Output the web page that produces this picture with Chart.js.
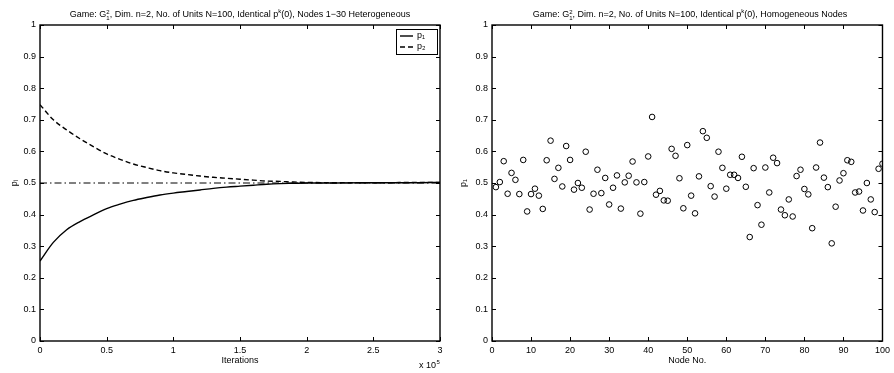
<!DOCTYPE html>
<html>
<head>
<meta charset="utf-8">
<script src="https://cdn.jsdelivr.net/npm/chart.js@4.4.1/dist/chart.umd.min.js"></script>
<style>
  body { margin: 0; background: #fff; font-family: 'Liberation Sans', Arial, sans-serif; }
  .panel { position: absolute; top: 0; height: 373px; }
  .ttl { position: absolute; top: 6px; font-size: 9px; white-space: nowrap; transform: translateX(-50%); color: #000; line-height: 11px; }
  .stk { display: inline-block; vertical-align: -3px; font-size: 6px; line-height: 6px; }
  .stk span { display: block; }
  .sup { font-size: 6px; vertical-align: 4px; }
</style>
</head>
<body>
<div class="panel" style="left:0;width:450px"><canvas id="conv" width="450" height="373"></canvas></div>
<div class="panel" style="left:450px;width:444px"><canvas id="nodes" width="444" height="373"></canvas></div>
<div class="ttl" style="left:240px">Game: G<span class="stk"><span>2</span><span>1</span></span>, Dim. n=2, No. of Units N=100, Identical p<span class="sup">k</span>(0), Nodes 1&#8722;30 Heterogeneous</div>
<div class="ttl" style="left:690px">Game: G<span class="stk"><span>2</span><span>1</span></span>, Dim. n=2, No. of Units N=100, Identical p<span class="sup">k</span>(0), Homogeneous Nodes</div>
<script>
// convergence of the mixed strategy, averaged over nodes
const iterations = [0, 10000, 20000, 30000, 40000, 50000, 60000, 70000, 80000, 90000,
  100000, 110000, 120000, 130000, 140000, 150000, 160000, 170000, 180000, 190000,
  200000, 220000, 240000, 260000, 280000, 300000];
const p1Avg = [0.253, 0.312, 0.352, 0.378, 0.399, 0.419, 0.433, 0.445, 0.454, 0.462,
  0.468, 0.473, 0.478, 0.483, 0.487, 0.490, 0.493, 0.496, 0.498, 0.499,
  0.500, 0.500, 0.501, 0.501, 0.501, 0.502];
const p2Avg = [0.748, 0.700, 0.668, 0.640, 0.615, 0.592, 0.575, 0.560, 0.549, 0.539,
  0.532, 0.527, 0.522, 0.518, 0.515, 0.512, 0.509, 0.506, 0.505, 0.503,
  0.502, 0.501, 0.501, 0.501, 0.502, 0.502];
const equilibrium = 0.5;

// final p1 per node
const nodeNo = Array.from({length: 100}, (_, i) => i + 1);
const p1Final = [
  0.487, 0.503, 0.569, 0.466, 0.532, 0.510, 0.465, 0.573, 0.410, 0.465,
  0.482, 0.460, 0.418, 0.572, 0.634, 0.513, 0.548, 0.489, 0.617, 0.573,
  0.479, 0.500, 0.485, 0.599, 0.416, 0.466, 0.542, 0.468, 0.516, 0.432,
  0.485, 0.524, 0.419, 0.502, 0.523, 0.568, 0.502, 0.403, 0.503, 0.584,
  0.709, 0.463, 0.475, 0.445, 0.444, 0.608, 0.586, 0.515, 0.420, 0.620,
  0.460, 0.404, 0.521, 0.664, 0.643, 0.490, 0.457, 0.599, 0.548, 0.482,
  0.526, 0.526, 0.516, 0.583, 0.488, 0.329, 0.547, 0.430, 0.368, 0.549,
  0.470, 0.580, 0.563, 0.416, 0.398, 0.448, 0.394, 0.522, 0.542, 0.481,
  0.464, 0.357, 0.549, 0.628, 0.517, 0.487, 0.309, 0.425, 0.508, 0.531,
  0.572, 0.567, 0.470, 0.473, 0.413, 0.500, 0.448, 0.408, 0.545, 0.561
];

const FONT = "'Liberation Sans', Arial, sans-serif";
Chart.defaults.font.family = FONT;
Chart.defaults.font.size = 9;
Chart.defaults.color = '#000';
Chart.defaults.animation = false;

// closed axes box with inward ticks on all four sides
const boxTicks = {
  id: 'boxTicks',
  afterDatasetsDraw(chart) {
    const {ctx, chartArea: a, scales} = chart;
    const L = 4;
    ctx.save();
    ctx.strokeStyle = '#000';
    ctx.lineWidth = 1;
    scales.x.ticks.forEach(t => {
      const px = Math.round(scales.x.getPixelForValue(t.value)) + 0.5;
      ctx.beginPath();
      ctx.moveTo(px, a.bottom); ctx.lineTo(px, a.bottom - L);
      ctx.moveTo(px, a.top); ctx.lineTo(px, a.top + L);
      ctx.stroke();
    });
    scales.y.ticks.forEach(t => {
      const py = Math.round(scales.y.getPixelForValue(t.value)) + 0.5;
      ctx.beginPath();
      ctx.moveTo(a.left, py); ctx.lineTo(a.left + L, py);
      ctx.moveTo(a.right, py); ctx.lineTo(a.right - L, py);
      ctx.stroke();
    });
    ctx.lineWidth = 1.4;
    ctx.strokeRect(a.left, a.top, a.right - a.left, a.bottom - a.top);
    ctx.restore();
  }
};

// boxed legend in the upper right corner
const cornerLegend = {
  id: 'cornerLegend',
  afterDraw(chart) {
    const {ctx, chartArea: a} = chart;
    const items = chart.data.datasets.filter(d => d.inLegend);
    const x0 = a.right - 44, y0 = a.top + 4, w = 41, h = 25;
    ctx.save();
    ctx.fillStyle = '#fff';
    ctx.fillRect(x0, y0, w, h);
    ctx.strokeStyle = '#000';
    ctx.lineWidth = 1;
    ctx.strokeRect(x0 + 0.5, y0 + 0.5, w, h);
    items.forEach((d, i) => {
      const yy = y0 + 7 + i * 11;
      ctx.beginPath();
      ctx.setLineDash(d.borderDash || []);
      ctx.lineWidth = d.borderWidth;
      ctx.moveTo(x0 + 4, yy); ctx.lineTo(x0 + 17, yy);
      ctx.stroke();
      ctx.setLineDash([]);
      ctx.fillStyle = '#000';
      ctx.font = '9px ' + FONT;
      ctx.textBaseline = 'middle';
      ctx.fillText(d.label, x0 + 21, yy);
    });
    ctx.restore();
  }
};

// exponent note under the right end of the x axis
const expNote = {
  id: 'expNote',
  afterDraw(chart) {
    const {ctx, chartArea: a} = chart;
    ctx.save();
    ctx.fillStyle = '#000';
    ctx.textBaseline = 'alphabetic';
    ctx.font = '9px ' + FONT;
    const base = 'x 10';
    const wBase = ctx.measureText(base).width;
    const x = a.right - wBase - 4;
    ctx.fillText(base, x, a.bottom + 27);
    ctx.font = '6px ' + FONT;
    ctx.fillText('5', x + wBase + 0.5, a.bottom + 23);
    ctx.restore();
  }
};

function yAxis(title, width, titleGap) {
  return {
    min: 0, max: 1,
    grid: {display: false, drawTicks: false}, border: {display: false},
    ticks: {stepSize: 0.1, padding: 4, callback: v => Math.round(v * 10) / 10},
    title: {display: true, text: title, padding: {top: titleGap, bottom: 0}},
    afterFit: s => { s.width = width; }
  };
}

function xAxis(max, step, title, fmt) {
  return {
    type: 'linear', min: 0, max: max,
    grid: {display: false, drawTicks: false}, border: {display: false},
    ticks: {stepSize: step, padding: 4, maxRotation: 0, callback: fmt},
    title: {display: true, text: title, padding: {top: 0, bottom: 7}},
    afterFit: s => { s.height = 32; }
  };
}

new Chart(document.getElementById('conv'), {
  type: 'line',
  data: {
    datasets: [
      {
        label: 'p\u2081', inLegend: true,
        data: iterations.map((x, i) => ({x, y: p1Avg[i]})),
        borderColor: '#000', borderWidth: 1.4, pointRadius: 0,
        cubicInterpolationMode: 'monotone'
      },
      {
        label: 'p\u2082', inLegend: true,
        data: iterations.map((x, i) => ({x, y: p2Avg[i]})),
        borderColor: '#000', borderWidth: 1.4, borderDash: [5, 3], pointRadius: 0,
        cubicInterpolationMode: 'monotone'
      },
      {
        label: 'equilibrium',
        data: [{x: 0, y: equilibrium}, {x: 300000, y: equilibrium}],
        borderColor: '#000', borderWidth: 1, borderDash: [7, 3, 1.5, 3], pointRadius: 0
      }
    ]
  },
  options: {
    responsive: false,
    layout: {padding: {top: 25, right: 10, left: 0, bottom: 0}},
    plugins: {legend: {display: false}, tooltip: {enabled: false}},
    scales: {
      x: xAxis(300000, 50000, 'Iterations', v => v / 100000),
      y: yAxis('p\u1d62', 40, 9)
    }
  },
  plugins: [boxTicks, cornerLegend, expNote]
});

new Chart(document.getElementById('nodes'), {
  type: 'scatter',
  data: {
    datasets: [{
      label: 'p\u2081',
      data: nodeNo.map((n, i) => ({x: n, y: p1Final[i]})),
      pointStyle: 'circle', pointRadius: 2.8, borderWidth: 1,
      borderColor: '#000', backgroundColor: 'rgba(0,0,0,0)'
    }]
  },
  options: {
    responsive: false,
    layout: {padding: {top: 25, right: 7, left: 0, bottom: 0}},
    plugins: {legend: {display: false}, tooltip: {enabled: false}},
    scales: {
      x: xAxis(100, 10, 'Node No.', v => v),
      y: yAxis('p\u2081', 42, 8)
    }
  },
  plugins: [boxTicks]
});
</script>
</body>
</html>
